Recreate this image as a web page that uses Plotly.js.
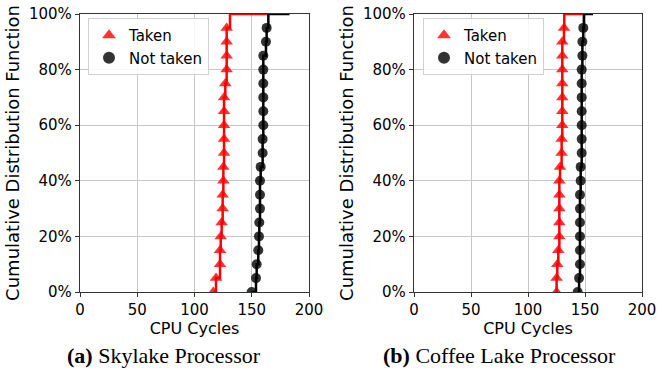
<!DOCTYPE html>
<html>
<head>
<meta charset="utf-8">
<script src="https://cdn.plot.ly/plotly-3.0.1.min.js"></script>
<style>html,body{margin:0;padding:0;background:#fff}#chart{width:657px;height:372px}</style>
</head>
<body>
<div id="chart"></div>
<script>
// CDF levels at which markers are drawn (%)
const pct = [0,5,10,15,20,25,30,35,40,45,50,55,60,65,70,75,80,85,90,95];
const topPct = [100,100];

// (a) Skylake — CPU cycles at each CDF level
const skyTaken = [116.4,118.8,122.3,122.3,122.9,123.7,124.6,124.6,125.2,125.2,125.8,125.8,125.8,125.8,125.8,126.9,128.1,128.1,128.1,128.1];
const skyTakenTop = [131,165];
const skyNot = [149.9,153.7,154.3,155.7,156.3,156.6,157.2,157.2,157.2,157.8,159.5,159.5,160.1,160.1,160.1,160.1,160.1,160.1,162.4,163.0];
const skyNotTop = [164.5,183];

// (b) Coffee Lake — CPU cycles at each CDF level
const cofTaken = [125.1,125.1,125.7,126.6,127.5,127.5,127.5,127.5,127.5,128.1,129.5,129.5,130.1,130.1,130.1,130.1,130.1,130.1,130.1,131.6];
const cofTakenTop = [131.8,149];
const cofNot = [143.6,144.8,145.6,145.6,145.6,145.6,145.6,145.6,146.2,146.2,147.1,147.1,147.1,147.1,147.1,147.1,147.1,147.7,147.7,148.5];
const cofNotTop = [149,157];

const seriesNames = ['Taken','Not taken'];
const xTicks = [0,50,100,150,200];
const yTicks = [0,20,40,60,80,100];
const yTickText = ['0%','20%','40%','60%','80%','100%'];
const captions = ['<b>(a)</b> Skylake Processor','<b>(b)</b> Coffee Lake Processor'];

const RED = 'rgb(255,0,0)', RED_M = 'rgba(255,0,0,0.8)';
const BLK = 'rgb(0,0,0)', BLK_M = 'rgba(0,0,0,0.8)';

function lineTrace(xs, top, color, xa, ya) {
  return {x: xs.concat(top), y: pct.concat(topPct), mode:'lines', line:{color:color,width:2.5,shape:'hv'},
          xaxis:xa, yaxis:ya, showlegend:false, hoverinfo:'skip'};
}
function markTrace(xs, name, sym, color, xa, ya, lg) {
  return {x: xs, y: pct, mode:'markers', name:name, marker:{symbol:sym,size:sym==='circle'?10:11,color:color},
          xaxis:xa, yaxis:ya, legend:lg};
}

const data = [
  lineTrace(skyTaken, skyTakenTop, RED, 'x', 'y'),
  markTrace(skyTaken, seriesNames[0], 'triangle-up', RED_M, 'x', 'y', 'legend'),
  lineTrace(skyNot, skyNotTop, BLK, 'x', 'y'),
  markTrace(skyNot, seriesNames[1], 'circle', BLK_M, 'x', 'y', 'legend'),
  lineTrace(cofTaken, cofTakenTop, RED, 'x2', 'y2'),
  markTrace(cofTaken, seriesNames[0], 'triangle-up', RED_M, 'x2', 'y2', 'legend2'),
  lineTrace(cofNot, cofNotTop, BLK, 'x2', 'y2'),
  markTrace(cofNot, seriesNames[1], 'circle', BLK_M, 'x2', 'y2', 'legend2')
];

const W = 657, H = 372;
const font = {family:'DejaVu Sans', size:15, color:'#000'};
function xAxis(d, anchor) {
  return {domain:d, anchor:anchor, range:[0,200], tickvals:xTicks, ticks:'outside', ticklen:4, tickcolor:'#333',
          showline:true, mirror:true, linecolor:'#333', linewidth:1.2, showgrid:true, gridcolor:'#c8c8c8', gridwidth:1,
          zeroline:false, tickfont:{size:15}, automargin:false,
          title:{text:'CPU Cycles', font:{size:16}, standoff:4}};
}
function yAxis(anchor) {
  return {domain:[(H-292)/H,(H-14)/H], anchor:anchor, range:[0,100], tickvals:yTicks, ticktext:yTickText, ticks:'outside',
          ticklen:4, tickcolor:'#333', showline:true, mirror:true, linecolor:'#333', linewidth:1.2, showgrid:true,
          gridcolor:'#c8c8c8', gridwidth:1, zeroline:false, tickfont:{size:15}, automargin:false,
          title:{text:'Cumulative Distribution Function', font:{size:18}, standoff:4}};
}
const legendBase = {yref:'paper', y:(H-18)/H, xanchor:'left', yanchor:'top', bgcolor:'rgba(255,255,255,0.85)',
                    bordercolor:'#d0d0d0', borderwidth:1, font:{size:15}, tracegroupgap:0, itemsizing:'constant'};
const layout = {
  width:W, height:H, margin:{l:0,r:0,t:0,b:0}, paper_bgcolor:'#fff', plot_bgcolor:'#fff', font:font,
  xaxis: xAxis([80/W,309/W], 'y'),
  yaxis: yAxis('x'),
  xaxis2: xAxis([414/W,642/W], 'y2'),
  yaxis2: yAxis('x2'),
  legend: Object.assign({x:88/W}, legendBase),
  legend2: Object.assign({x:423/W}, legendBase),
  annotations: [
    {text:captions[0], xref:'paper', yref:'paper', x:164/W, y:(H-355)/H, xanchor:'center', yanchor:'middle',
     showarrow:false, font:{family:'Liberation Serif', size:22, color:'#000'}},
    {text:captions[1], xref:'paper', yref:'paper', x:499/W, y:(H-355)/H, xanchor:'center', yanchor:'middle',
     showarrow:false, font:{family:'Liberation Serif', size:22, color:'#000'}}
  ],
  showlegend:true
};
Plotly.newPlot('chart', data, layout, {staticPlot:true, displayModeBar:false});
</script>
</body>
</html>
